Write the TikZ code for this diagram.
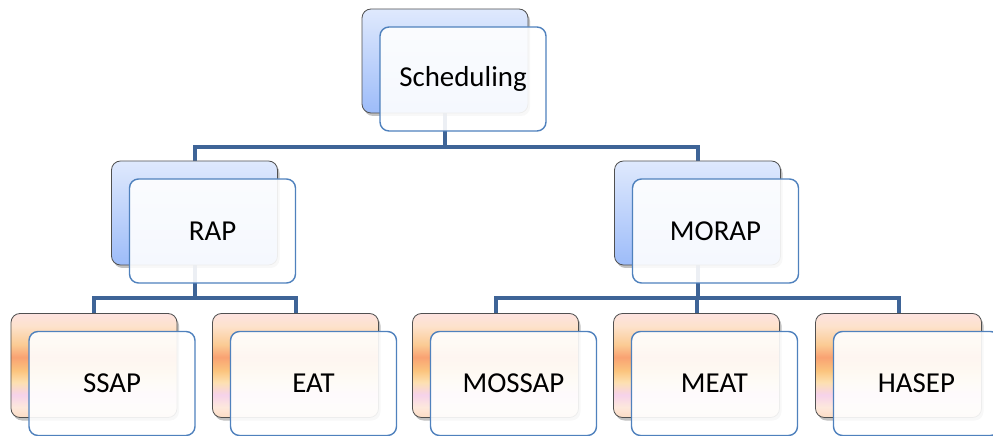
\documentclass[tikz,border=0pt]{standalone}
\usepackage{fontspec}
\setmainfont{Carlito}
\usetikzlibrary{shadows}
\definecolor{conn}{HTML}{3E6497}
\definecolor{frontborder}{HTML}{4F81BD}
\definecolor{backborder}{HTML}{505050}
\definecolor{bTop}{HTML}{DFE9FD}
\definecolor{bBot}{HTML}{9DBCF9}
\definecolor{o1}{HTML}{FDE3E0}
\definecolor{o2}{HTML}{FDE2CC}
\definecolor{o3}{HTML}{FBCB94}
\definecolor{o4}{HTML}{F9A272}
\definecolor{o5}{HTML}{FBC47E}
\definecolor{o6}{HTML}{FDE0B0}
\definecolor{o7}{HTML}{F6D2EA}
\definecolor{o8}{HTML}{FDE8DC}
\definecolor{o9}{HTML}{FCDCC4}
\pgfdeclareverticalshading{blueshade}{100bp}{color(0bp)=(bBot); color(25bp)=(bBot); color(75bp)=(bTop); color(100bp)=(bTop)}
\pgfdeclareverticalshading{orangeshade}{100bp}{color(0bp)=(o9); color(25bp)=(o9); color(30bp)=(o8); color(36bp)=(o7); color(42bp)=(o6); color(47.5bp)=(o5); color(54bp)=(o4); color(60bp)=(o3); color(69bp)=(o2); color(75bp)=(o1); color(100bp)=(o1)}
\pgfdeclarelayer{bg}
\pgfsetlayers{bg,main}
\tikzset{
  box/.style={rounded corners=9bp, minimum width=166bp, minimum height=104bp, inner sep=0pt},
  backblue/.style={box, draw=backborder, line width=0.8bp, shading=blueshade,
     drop shadow={shadow xshift=2bp, shadow yshift=-3bp, opacity=0.35, fill=black!70}},
  backorange/.style={box, draw=backborder, line width=0.8bp, shading=orangeshade,
     drop shadow={shadow xshift=2bp, shadow yshift=-3bp, opacity=0.35, fill=black!70}},
  frontbox/.style={box, draw=frontborder, line width=1.4bp, fill=white, fill opacity=0.9, text opacity=1,
     font=\fontsize{29}{34}\selectfont, text=black},
  connector/.style={draw=conn, line width=4bp}
}
\begin{document}
\begin{tikzpicture}[x=1bp,y=-1bp]
\useasboundingbox (0,0) rectangle (993,436);
% back boxes
\node[backblue] (bSched) at (445,61) {};
\node[frontbox] (fSched) at (463,79) {Scheduling};
\node[backblue] (bRAP) at (194.5,213) {};
\node[frontbox] (fRAP) at (212.5,231) {RAP};
\node[backblue] (bMORAP) at (697.5,213) {};
\node[frontbox] (fMORAP) at (715.5,231) {MORAP};
\node[backorange] (bSSAP) at (94,365.5) {};
\node[frontbox] (fSSAP) at (112,383.5) {SSAP};
\node[backorange] (bEAT) at (295.5,365.5) {};
\node[frontbox] (fEAT) at (313.5,383.5) {EAT};
\node[backorange] (bMOSSAP) at (495.5,365.5) {};
\node[frontbox] (fMOSSAP) at (513.5,383.5) {MOSSAP};
\node[backorange] (bMEAT) at (696.5,365.5) {};
\node[frontbox] (fMEAT) at (714.5,383.5) {MEAT};
\node[backorange] (bHASEP) at (898.5,365.5) {};
\node[frontbox] (fHASEP) at (916.5,383.5) {HASEP};
% junctions
\coordinate (j1) at (445,147);
\coordinate (j2) at (194.5,298);
\coordinate (j3) at (697.5,298);
\begin{pgfonlayer}{bg}
\draw[connector] (bSched.south) -- (j1);
\draw[connector] (j1) -| (bRAP.north);
\draw[connector] (j1) -| (bMORAP.north);
\draw[connector] (bRAP.south) -- (j2);
\draw[connector] (j2) -| (bSSAP.north);
\draw[connector] (j2) -| (bEAT.north);
\draw[connector] (bMORAP.south) -- (j3);
\draw[connector] (j3) -| (bMOSSAP.north);
\draw[connector] (j3) -| (bMEAT.north);
\draw[connector] (j3) -| (bHASEP.north);
\end{pgfonlayer}
\end{tikzpicture}
\end{document}
